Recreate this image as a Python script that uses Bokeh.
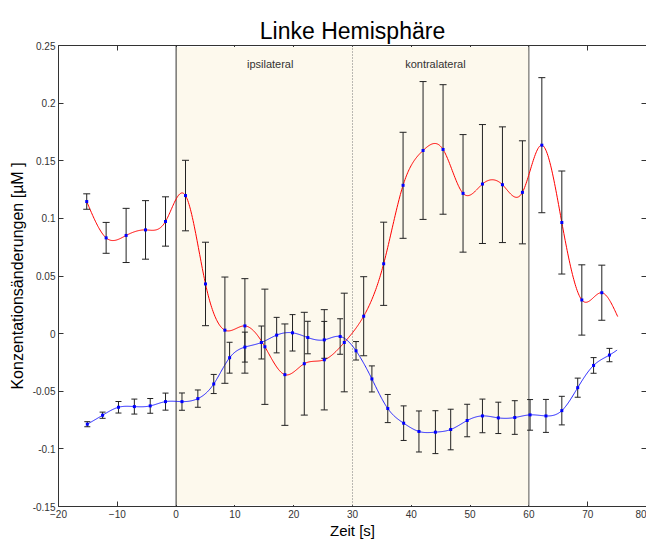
import numpy as np
from bokeh.plotting import figure
from bokeh.models import (ColumnDataSource, Whisker, TeeHead, BoxAnnotation, Span, Label,
                          FixedTicker, LinearAxis, NumeralTickFormatter, Range1d,
                          CustomLabelingPolicy)
from bokeh.embed import file_html
from bokeh.resources import INLINE

# ---------------- data ----------------
title_text = "Linke Hemisphäre"
x_label = "Zeit [s]"
y_label = "Konzentationsänderungen [µM ]"
x_ticks = [-20, -10, 0, 10, 20, 30, 40, 50, 60, 70, 80]
y_ticks = [-0.15, -0.1, -0.05, 0, 0.05, 0.1, 0.15, 0.2, 0.25]
phase_names = ["ipsilateral", "kontralateral"]
phase_start = 0
phase_mid = 30
phase_end = 60

red_x = [-15.2, -11.9, -8.5, -5.2, -1.8, 1.6, 5.0, 8.3, 11.7, 15.1, 18.5, 21.8, 25.2, 28.6,
         31.9, 35.3, 38.6, 42.0, 45.4, 48.8, 52.1, 55.5, 58.9, 62.2, 65.6, 69.0, 72.4]
red_y = [0.1146, 0.0831, 0.0852, 0.0900, 0.0973, 0.1198, 0.0431, 0.0030, 0.0067, -0.0114,
         -0.0356, -0.0261, -0.0227, -0.0077, 0.0151, 0.0606, 0.1287, 0.1589, 0.1598, 0.1217,
         0.1298, 0.1292, 0.1226, 0.1635, 0.0964, 0.0292, 0.0355]
red_err = [0.0067, 0.0134, 0.0235, 0.0254, 0.0214, 0.0306, 0.0362, 0.0461, 0.0410, 0.0500,
           0.0440, 0.0446, 0.0435, 0.0428, 0.0343, 0.0361, 0.0460, 0.0598, 0.0562, 0.0510,
           0.0516, 0.0502, 0.0447, 0.0586, 0.0447, 0.0305, 0.0239]
red_tail_x = [75.1]
red_tail_y = [0.0148]

blue_x = [-15.1, -12.5, -9.8, -7.1, -4.4, -1.8, 1.0, 3.7, 6.4, 9.1, 11.7, 14.5, 17.1, 19.8,
          22.4, 25.2, 27.9, 30.6, 33.3, 36.0, 38.7, 41.3, 44.1, 46.7, 49.5, 52.1, 54.8, 57.6,
          60.2, 62.9, 65.6, 68.3, 71.0, 73.7]
blue_y = [-0.0786, -0.0708, -0.0639, -0.0633, -0.0627, -0.0590, -0.0590, -0.0564, -0.0437,
          -0.0209, -0.0117, -0.0077, -0.0013, 0.0007, -0.0034, -0.0054, -0.0025, -0.0149,
          -0.0393, -0.0650, -0.0777, -0.0849, -0.0855, -0.0832, -0.0754, -0.0714, -0.0731,
          -0.0728, -0.0705, -0.0714, -0.0668, -0.0469, -0.0276, -0.0186]
blue_err = [0.0022, 0.0027, 0.0050, 0.0065, 0.0064, 0.0074, 0.0075, 0.0075, 0.0083, 0.0134,
            0.0130, 0.0143, 0.0154, 0.0158, 0.0141, 0.0160, 0.0154, 0.0080, 0.0113, 0.0122,
            0.0150, 0.0178, 0.0186, 0.0176, 0.0141, 0.0146, 0.0136, 0.0146, 0.0133, 0.0143,
            0.0124, 0.0083, 0.0068, 0.0058]
blue_tail_x = [75.0]
blue_tail_y = [-0.0143]


def natural_spline(xk, yk, n=800):
    x = np.asarray(xk, float)
    y = np.asarray(yk, float)
    m = len(x)
    h = np.diff(x)
    A = np.zeros((m, m))
    b = np.zeros(m)
    A[0, 0] = A[-1, -1] = 1.0
    for i in range(1, m - 1):
        A[i, i - 1] = h[i - 1]
        A[i, i] = 2 * (h[i - 1] + h[i])
        A[i, i + 1] = h[i]
        b[i] = 3 * ((y[i + 1] - y[i]) / h[i] - (y[i] - y[i - 1]) / h[i - 1])
    c = np.linalg.solve(A, b)
    bc = (y[1:] - y[:-1]) / h - h * (2 * c[:-1] + c[1:]) / 3
    d = (c[1:] - c[:-1]) / (3 * h)
    xs = np.linspace(x[0], x[-1], n)
    idx = np.clip(np.searchsorted(x, xs) - 1, 0, m - 2)
    dx = xs - x[idx]
    ys = y[idx] + bc[idx] * dx + c[idx] * dx ** 2 + d[idx] * dx ** 3
    return xs, ys


FONT = "Liberation Sans"
Y0, Y1 = -0.15, 0.25

p = figure(width=646, height=541, x_range=Range1d(-20, 80), y_range=Range1d(Y0, Y1),
           output_backend="svg", toolbar_location=None, title=title_text,
           min_border_left=58, min_border_right=0, min_border_top=45, min_border_bottom=34)
p.grid.visible = False
p.outline_line_color = None
p.background_fill_color = "white"
p.border_fill_color = "white"
p.title.align = "center"
p.title.text_font = FONT
p.title.text_font_size = "23px"
p.title.text_font_style = "normal"
p.title.text_color = "black"
p.title.standoff = 4


def style_axis(ax, labels=True):
    ax.axis_line_color = "#333333"
    ax.axis_line_width = 1
    ax.major_tick_in = 5
    ax.major_tick_out = 0
    ax.major_tick_line_color = "#333333"
    ax.minor_tick_line_color = None
    if labels:
        ax.major_label_text_font = FONT
        ax.major_label_text_font_size = "10px"
        ax.major_label_text_color = "#333333"
        ax.major_label_standoff = 3
    else:
        ax.major_label_policy = CustomLabelingPolicy(code="return []")
        ax.major_label_text_font_size = "0px"
        ax.major_label_standoff = 0


xa = p.xaxis[0]
xa.ticker = FixedTicker(ticks=x_ticks)
style_axis(xa)
xa.axis_label = x_label
xa.axis_label_text_font = FONT
xa.axis_label_text_font_size = "15px"
xa.axis_label_text_font_style = "normal"
xa.axis_label_text_color = "black"
xa.axis_label_standoff = 1

ya = p.yaxis[0]
ya.ticker = FixedTicker(ticks=y_ticks)
ya.formatter = NumeralTickFormatter(format="0.[00]")
style_axis(ya)
ya.axis_label = y_label
ya.axis_label_text_font = FONT
ya.axis_label_text_font_size = "16px"
ya.axis_label_text_font_style = "normal"
ya.axis_label_text_color = "black"
ya.axis_label_standoff = 4

top = LinearAxis(ticker=FixedTicker(ticks=x_ticks))
style_axis(top, labels=False)
p.add_layout(top, "above")
right = LinearAxis(ticker=FixedTicker(ticks=y_ticks))
style_axis(right, labels=False)
p.add_layout(right, "right")

# shaded stimulation period (drawn over the axis ticks, just inside the frame lines)
inset = (Y1 - Y0) * 0.003
p.add_layout(BoxAnnotation(left=phase_start, right=phase_end, bottom=Y0 + inset, top=Y1 - inset,
                           fill_color="#fdf9ed", fill_alpha=1.0, line_color=None, level="guide"))
p.add_layout(Span(location=phase_start, dimension="height", line_color="#333333", line_width=1,
                  level="guide"))
p.add_layout(Span(location=phase_end, dimension="height", line_color="#555555", line_width=1,
                  level="guide"))
p.add_layout(Span(location=phase_mid, dimension="height", line_color="#777777", line_width=1,
                  line_dash="1 2", level="guide"))

p.add_layout(Label(x=(phase_start + phase_mid) / 2 + 1.0, y=0.2342, text=phase_names[0],
                   text_align="center", text_baseline="alphabetic", text_font=FONT,
                   text_font_size="11px", text_color="#333333"))
p.add_layout(Label(x=(phase_mid + phase_end) / 2 - 0.9, y=0.2342, text=phase_names[1],
                   text_align="center", text_baseline="alphabetic", text_font=FONT,
                   text_font_size="11px", text_color="#333333"))

# error bars
for xs, ys, es, head in ((red_x, red_y, red_err, 7), (blue_x, blue_y, blue_err, 6)):
    src = ColumnDataSource(dict(x=xs,
                                lower=[y - e for y, e in zip(ys, es)],
                                upper=[y + e for y, e in zip(ys, es)]))
    p.add_layout(Whisker(source=src, base="x", lower="lower", upper="upper",
                         line_color="#222222", line_width=1, level="annotation",
                         upper_head=TeeHead(size=head, line_color="#222222", line_width=1),
                         lower_head=TeeHead(size=head, line_color="#222222", line_width=1)))

# curves
rx, ry = natural_spline(red_x + red_tail_x, red_y + red_tail_y)
bx, by = natural_spline(blue_x + blue_tail_x, blue_y + blue_tail_y)
p.line(rx, ry, line_color="#ff0000", line_width=1, level="annotation")
p.line(bx, by, line_color="#0000ff", line_width=1, line_alpha=0.85, level="annotation")

# data points
p.scatter(red_x, red_y, size=3, marker="square", fill_color="#0000ff", line_alpha=0,
          level="overlay")
p.scatter(blue_x, blue_y, size=3, marker="square", fill_color="#0000ff", line_alpha=0,
          level="overlay")

open("out.html", "w").write(file_html(p, INLINE))
